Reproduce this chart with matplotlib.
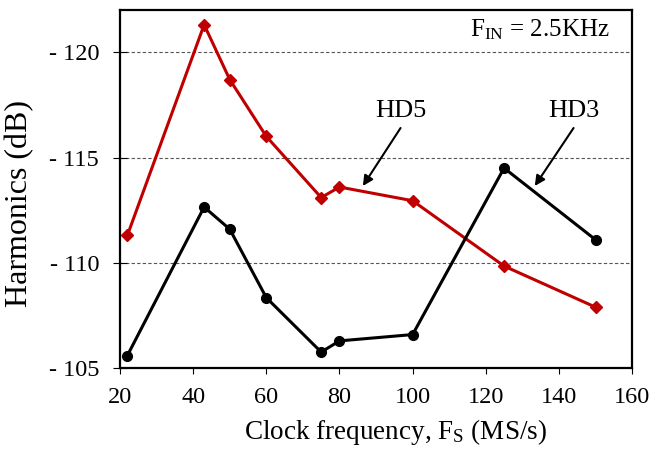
import matplotlib
matplotlib.use('Agg')
import matplotlib.pyplot as plt

plt.rcParams['font.family'] = 'Liberation Serif'
plt.rcParams['mathtext.fontset'] = 'custom'
plt.rcParams['mathtext.rm'] = 'Liberation Serif'
plt.rcParams['mathtext.it'] = 'Liberation Serif:italic'

# Data
freq = [22, 43, 50, 60, 75, 80, 100, 125, 150]
hd5 = [-111.3, -121.3, -118.7, -116.0, -113.1, -113.6, -112.95, -109.85, -107.9]
hd3 = [-105.6, -112.65, -111.6, -108.35, -105.77, -106.3, -106.6, -114.5, -111.1]

x_ticks = [20, 40, 60, 80, 100, 120, 140, 160]
y_ticks = [-105, -110, -115, -120]
y_labels = ['- 105', '- 110', '- 115', '- 120']

fig = plt.figure(figsize=(6.54, 4.53), dpi=100)
ax = fig.add_axes([0.1835, 0.187, 0.783, 0.791])

ax.plot(freq, hd5, color='#C00000', lw=2.2, marker='D', ms=6, zorder=3)
ax.plot(freq, hd3, color='black', lw=2.2, marker='o', ms=7, zorder=3)

ax.set_xlim(20, 160)
ax.set_ylim(-105, -122)
ax.set_xticks(x_ticks)
ax.set_yticks(y_ticks)
ax.set_yticklabels(y_labels)
ax.tick_params(axis='x', labelsize=17.5, direction='out', length=4.5, width=0.8, pad=9)
ax.tick_params(axis='y', labelsize=17.5, direction='inout', length=10, width=0.8, pad=10)

# dashed grid lines (not on the bottom edge)
for y in y_ticks[1:]:
    ax.axhline(y, color='#555555', lw=0.8, ls=(0, (3, 2)), zorder=1)

for s in ax.spines.values():
    s.set_linewidth(1.6)

ax.set_xlabel(r'Clock frequency, F$_{\rm S}$ (MS/s)', fontsize=19.5, labelpad=8)
ax.xaxis.set_label_coords(0.538, -0.135)
ax.set_ylabel('Harmonics (dB)', fontsize=23)
ax.yaxis.set_label_coords(-0.168, 0.46)

ax.text(0.957, 0.944, r'F$_{\rm IN}$ = 2.5KHz', transform=ax.transAxes,
        fontsize=18, ha='right', va='center')

# labels with arrows
ax.text(96.7, -117.2, 'HD5', fontsize=19, ha='center', va='center')
ax.annotate('', xy=(86.4, -113.65), xytext=(96.7, -116.4),
            arrowprops=dict(arrowstyle='-|>', color='black', lw=1.5,
                            shrinkA=0, shrinkB=0, mutation_scale=15))
ax.text(144, -117.2, 'HD3', fontsize=19, ha='center', va='center')
ax.annotate('', xy=(133.4, -113.65), xytext=(144, -116.4),
            arrowprops=dict(arrowstyle='-|>', color='black', lw=1.5,
                            shrinkA=0, shrinkB=0, mutation_scale=15))

plt.savefig('out.png', dpi=100)
